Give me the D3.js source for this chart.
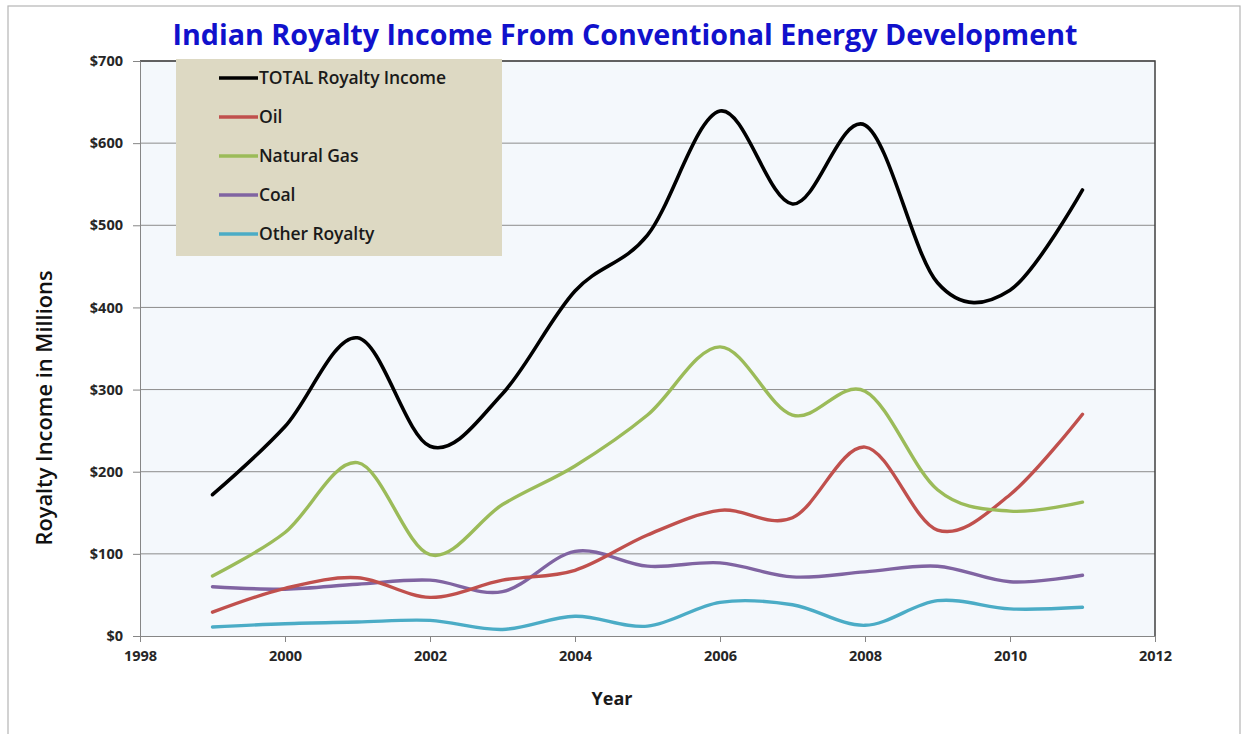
<!DOCTYPE html>
<html>
<head>
<meta charset="utf-8">
<script src="https://cdn.jsdelivr.net/npm/d3@7"></script>
<style>
  body { margin: 0; background: #fff; }
  text { font-family: "Open Sans", "Noto Sans", sans-serif; }
</style>
</head>
<body>
<svg id="chart" width="1245" height="734"></svg>
<script>
// values (millions of dollars)
var years = [1999, 2000, 2001, 2002, 2003, 2004, 2005, 2006, 2007, 2008, 2009, 2010, 2011];
var total = [172, 255, 363, 231, 295, 420, 488, 639, 526, 622, 430, 421, 543];
var oil = [29, 58, 71, 47, 68, 80, 123, 153, 144, 230, 129, 172, 270];
var gas = [73, 126, 211, 99, 160, 207, 269, 352, 269, 298, 178, 152, 163];
var coal = [60, 57, 63, 68, 54, 103, 85, 89, 72, 78, 85, 66, 74];
var other = [11, 15, 17, 19, 8, 24, 12, 41, 38, 13, 43, 33, 35];

var seriesNames = ["TOTAL Royalty Income", "Oil", "Natural Gas", "Coal", "Other Royalty"];
var seriesColors = ["#000000", "#C0504D", "#9BBB59", "#8064A2", "#4BACC6"];
var yTicks = [0, 100, 200, 300, 400, 500, 600, 700];
var xTicks = [1998, 2000, 2002, 2004, 2006, 2008, 2010, 2012];

var seriesData = [total, oil, gas, coal, other];

var margin = { top: 61, left: 140, right: 90, bottom: 98 };
var width = 1245, height = 734;

var svg = d3.select('#chart');

// outer chart frame
svg.append('rect')
    .attr('x', 8).attr('y', 6)
    .attr('width', 1232).attr('height', 740)
    .attr('fill', '#fff')
    .attr('stroke', '#b5b5b5')
    .attr('stroke-width', 1.2);

var x = d3.scaleLinear()
    .domain([1998, 2012])
    .range([margin.left, width - margin.right]);

var y = d3.scaleLinear()
    .domain([0, 700])
    .range([height - margin.bottom, margin.top]);

// plot background
svg.append('rect')
    .attr('x', x(1998)).attr('y', y(700))
    .attr('width', x(2012) - x(1998))
    .attr('height', y(0) - y(700))
    .attr('fill', '#F4F8FC');

// gridlines
svg.append('g')
    .selectAll('line')
    .data(yTicks.slice(1))
    .enter()
    .append('line')
    .attr('x1', x(1998)).attr('x2', x(2012))
    .attr('y1', d => y(d)).attr('y2', d => y(d))
    .attr('stroke', '#8c8c8c')
    .attr('stroke-width', 1);

// plot border top/right
svg.append('path')
    .attr('d', 'M' + x(1998) + ',' + y(700) + 'H' + x(2012) + 'V' + y(0))
    .attr('fill', 'none')
    .attr('stroke', '#404040')
    .attr('stroke-width', 1.5);

var yAxis = d3.axisLeft(y)
    .tickValues(yTicks)
    .tickSize(7)
    .tickPadding(10)
    .tickFormat(d => '$' + d);

var xAxis = d3.axisBottom(x)
    .tickValues(xTicks)
    .tickSize(6)
    .tickPadding(9)
    .tickFormat(d3.format('d'));

var gy = svg.append('g')
    .attr('transform', 'translate(' + x(1998) + ',0)')
    .call(yAxis);
gy.select('.domain').attr('stroke', '#868686');
gy.selectAll('.tick line').attr('stroke', '#868686');

var gx = svg.append('g')
    .attr('transform', 'translate(0,' + y(0) + ')')
    .call(xAxis);
gx.select('.domain').attr('stroke', '#868686');
gx.selectAll('.tick line').attr('stroke', '#868686');

svg.selectAll('.tick text')
    .style('font-family', '"Open Sans", sans-serif')
    .style('font-size', '14.5px')
    .style('font-weight', 700)
    .style('fill', '#262626');

// smoothed lines like Excel
var line = d3.line()
    .x((d, i) => x(years[i]))
    .y(d => y(d))
    .curve(d3.curveCardinal.tension(0));

// draw in back-to-front order: other first, total last
var order = [4, 3, 1, 2, 0];
svg.append('g')
    .selectAll('path')
    .data(order)
    .enter()
    .append('path')
    .attr('d', i => line(seriesData[i]))
    .attr('fill', 'none')
    .attr('stroke', i => seriesColors[i])
    .attr('stroke-width', i => i == 0 ? 3.6 : 3.4)
    .attr('stroke-linecap', 'round');

// legend
var legend = svg.append('g');
legend.append('rect')
    .attr('x', 176).attr('y', 59)
    .attr('width', 326).attr('height', 197)
    .attr('fill', '#DDD9C3');

var items = legend.selectAll('g.item')
    .data(seriesNames)
    .enter()
    .append('g')
    .attr('class', 'item')
    .attr('transform', (d, i) => 'translate(0,' + (78 + i * 39) + ')');

items.append('line')
    .attr('x1', 219).attr('x2', 258)
    .attr('y1', 0).attr('y2', 0)
    .attr('stroke', (d, i) => seriesColors[i])
    .attr('stroke-width', 3.6);

items.append('text')
    .attr('x', 259)
    .attr('y', 0)
    .attr('dy', '0.36em')
    .style('font-size', '17.5px')
    .style('font-weight', 600)
    .style('fill', '#1a1a1a')
    .style('letter-spacing', '-0.1px')
    .text(d => d);

// title
svg.append('text')
    .attr('x', 625)
    .attr('y', 45)
    .attr('text-anchor', 'middle')
    .attr('textLength', 905)
    .attr('lengthAdjust', 'spacingAndGlyphs')
    .style('font-size', '28px')
    .style('font-weight', 700)
    .style('fill', '#1111CC')
    .text('Indian Royalty Income From Conventional Energy Development');

// axis titles
svg.append('text')
    .attr('x', 612)
    .attr('y', 705)
    .attr('text-anchor', 'middle')
    .style('font-size', '18px')
    .style('font-weight', 700)
    .style('fill', '#1a1a1a')
    .text('Year');

svg.append('text')
    .attr('transform', 'translate(52,' + 408 + ') rotate(-90)')
    .attr('text-anchor', 'middle')
    .attr('textLength', 275)
    .attr('lengthAdjust', 'spacingAndGlyphs')
    .style('font-size', '21px')
    .style('font-weight', 600)
    .style('fill', '#111')
    .text('Royalty Income in Millions');
</script>
</body>
</html>
